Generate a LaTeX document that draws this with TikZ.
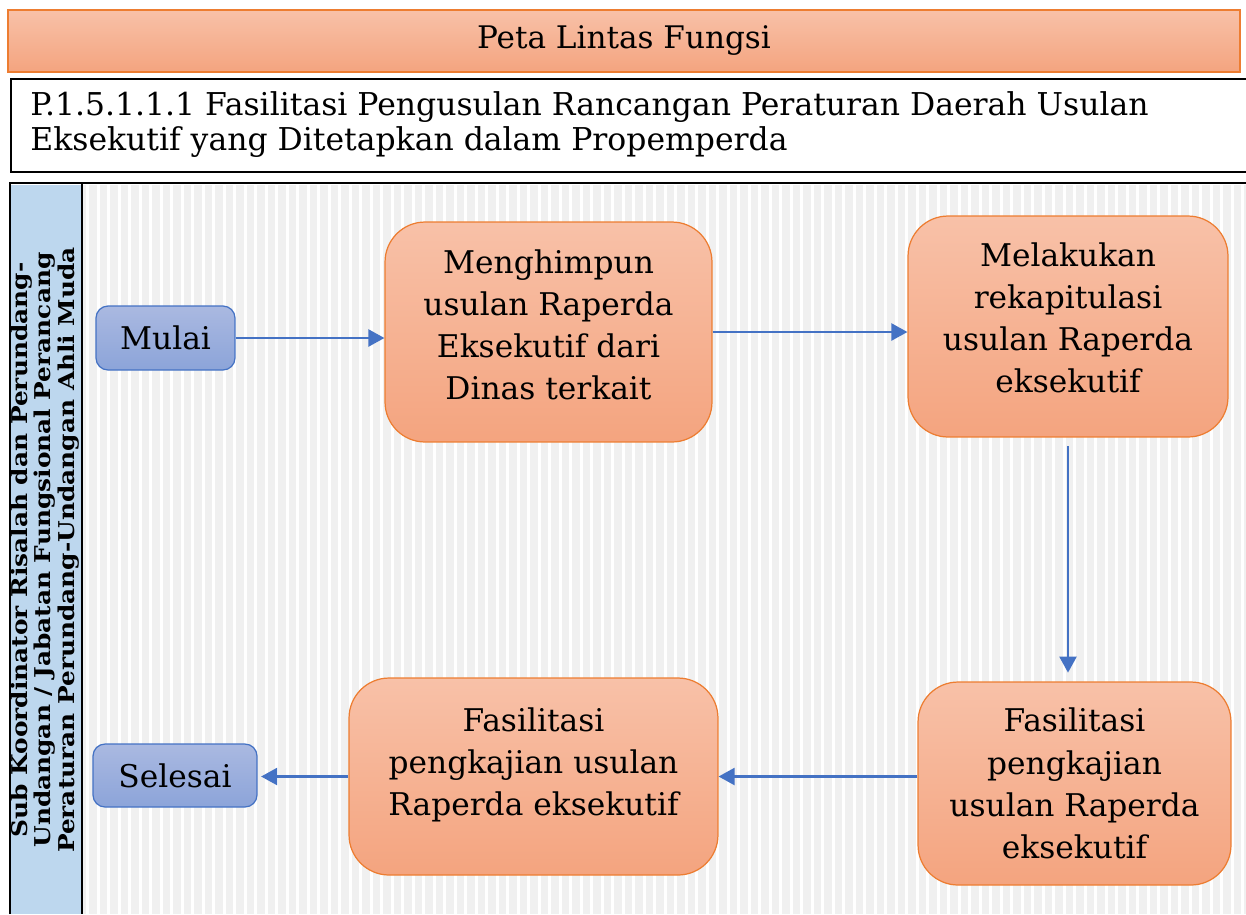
\documentclass[tikz,border=0pt]{standalone}
\usepackage{fontspec}
\setmainfont{DejaVu Serif}
\newfontfamily\lajurfont[FakeStretch=1.14]{DejaVu Serif}
\usepackage{tikz}
\usetikzlibrary{arrows.meta,positioning}
\definecolor{oranyeatas}{HTML}{F8C1A8}
\definecolor{oranyebawah}{HTML}{F4A47F}
\definecolor{oranyegaris}{HTML}{ED7D31}
\definecolor{biruatas}{HTML}{AAB9E1}
\definecolor{birubawah}{HTML}{8CA4D9}
\definecolor{birugaris}{HTML}{4472C4}
\definecolor{lajurbiru}{HTML}{BDD7EE}
\definecolor{lajurabu}{HTML}{F0F0F0}

\begin{document}
\begin{tikzpicture}[x=0.02cm,y=-0.02cm,
	procbox/.style={draw=oranyegaris,line width=0.7pt,top color=oranyeatas,bottom color=oranyebawah,rounded corners=0.8cm,align=center,font=\fontsize{17.8}{24}\selectfont},
	termbox/.style={draw=birugaris,line width=0.7pt,top color=biruatas,bottom color=birubawah,rounded corners=0.24cm,align=center,font=\fontsize{17.8}{24}\selectfont},
	flow/.style={draw=birugaris,line width=1.3pt,-{Triangle[length=0.32cm,width=0.34cm]}}]
			\useasboundingbox (0,0) rectangle (1246,914);
			\fill[white] (0,0) rectangle (1246,914);

			\node[draw=oranyegaris,line width=0.8pt,top color=oranyeatas,bottom color=oranyebawah,minimum width=24.64cm,minimum height=1.24cm,font=\fontsize{17.7}{20}\selectfont] (kepala) at (624,41) {Peta Lintas Fungsi};
			\draw[line width=1.6pt,fill=white] (11,79) rectangle (1256,172);
			\node[anchor=north west,align=left,inner sep=0pt,font=\fontsize{17.9}{20}\selectfont] (judul) at (30,91) {P.1.5.1.1.1 Fasilitasi Pengusulan Rancangan Peraturan Daerah Usulan\\Eksekutif yang Ditetapkan dalam Propemperda};

			\fill[lajurabu] (82,185) rectangle (1246,914);
			\foreach \x in {0,...,110}
			{
				\pgfmathsetmacro\result{86+\x*10.5}
				\fill[white] (\result,185) rectangle (\result+3,914);
			}
			\fill[lajurbiru] (10,185) rectangle (82,914);
			\draw[line width=1.6pt] (10,914) -- (10,183) -- (1246,183);
			\draw[line width=0.8pt] (82,183) -- (82,914);
			\node[rotate=90,align=center,font=\lajurfont\bfseries\fontsize{12.4}{11.8}\selectfont] (lajur) at (45,550) {Sub Koordinator Risalah dan Perundang-\\Undangan / Jabatan Fungsional Perancang\\Peraturan Perundang-Undangan Ahli Muda};

			\node[termbox,minimum width=2.78cm,minimum height=1.28cm] (mulai) at (165.5,338) {Mulai};
			\node[procbox,minimum width=6.54cm,minimum height=4.4cm,text depth=0.3cm] (himpun) at (548.5,332) {Menghimpun\\usulan Raperda\\Eksekutif dari\\Dinas terkait};
			\node[procbox,minimum width=6.4cm,minimum height=4.42cm,text depth=0.35cm] (rekap) at (1068,326.5) {Melakukan\\rekapitulasi\\usulan Raperda\\eksekutif};
			\node[procbox,minimum width=6.26cm,minimum height=4.06cm] (kaji) at (1074.5,783.5) {Fasilitasi\\pengkajian\\usulan Raperda\\eksekutif};
			\node[procbox,minimum width=7.38cm,minimum height=3.94cm,text depth=0.6cm] (kajiusul) at (533.5,776.5) {Fasilitasi\\pengkajian usulan\\Raperda eksekutif};
			\node[termbox,minimum width=3.28cm,minimum height=1.26cm] (selesai) at (175,775.5) {Selesai};

			\draw[flow] (mulai.east) -- (mulai.east -| himpun.west);
			\draw[flow] (himpun.east) -- (himpun.east -| rekap.west);
			\draw[flow,shorten <=5pt,shorten >=5pt] (rekap.south) -- (rekap.south |- kaji.north);
			\draw[flow] (kajiusul.east -| kaji.west) -- (kajiusul.east);
			\draw[flow,shorten >=2pt] (kajiusul.west) -- (kajiusul.west -| selesai.east);
		\end{tikzpicture}
\end{document}
